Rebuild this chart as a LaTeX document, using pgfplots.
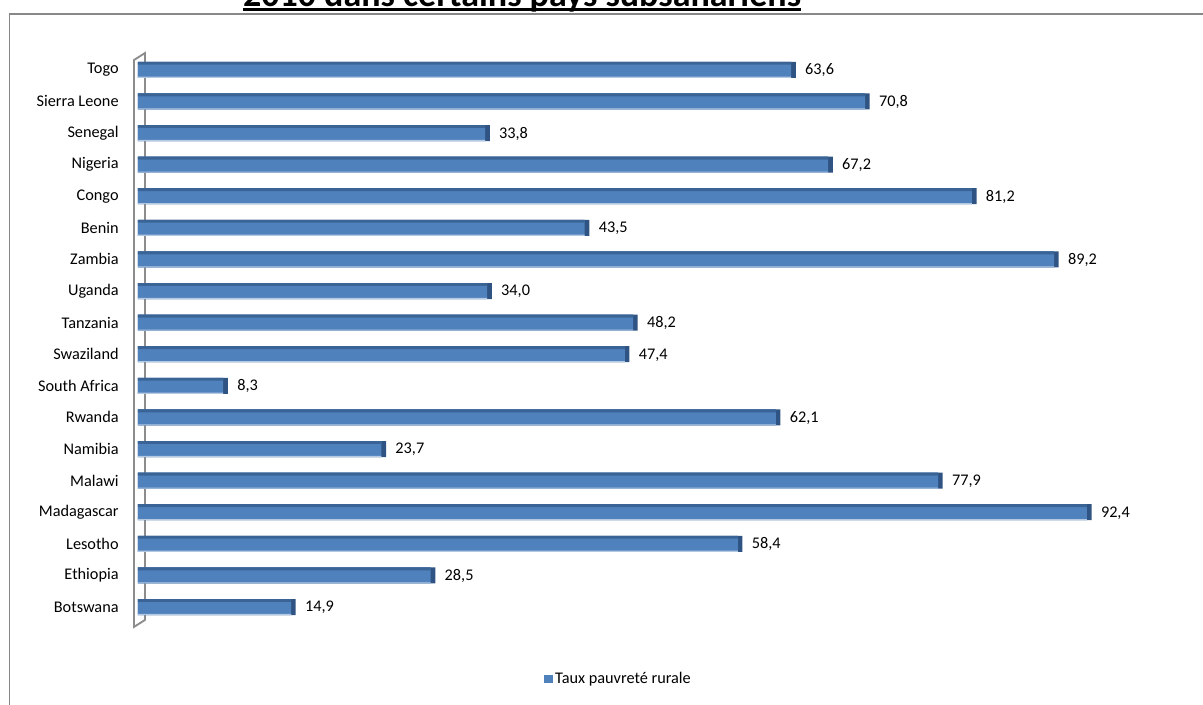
\documentclass[border=0pt]{standalone}
\usepackage{fontspec}
\setmainfont{Carlito}
\usepackage{pgfplots}
\usepackage{pgfplotstable}
\pgfplotsset{compat=1.18}
\definecolor{barblue}{HTML}{4F81BD}
\definecolor{bardark}{HTML}{3B6496}
\definecolor{barlight}{HTML}{B4C8E2}
\definecolor{barside}{HTML}{2F5483}
\definecolor{wallgray}{HTML}{8C8C8C}
\definecolor{framegray}{HTML}{888888}
\newcommand{\p}[1]{#1*0.75pt}
\pgfplotstableread{
idx v
0 14.9
1 28.5
2 58.4
3 92.4
4 77.9
5 23.7
6 62.1
7 8.3
8 47.4
9 48.2
10 34.0
11 89.2
12 43.5
13 81.2
14 67.2
15 33.8
16 70.8
17 63.6
}\rates
\begin{document}
\begin{tikzpicture}
\useasboundingbox (0,0) rectangle ({\p{1203}},{-\p{704}});
\clip (0,0) rectangle ({\p{1203}},{-\p{704}});
\draw[framegray, line width=1.2pt] ({\p{9.5}},{-\p{720}}) -- ({\p{9.5}},{-\p{14}}) -- ({\p{1220}},{-\p{14}});
\node[anchor=base, inner sep=0pt, font=\bfseries\fontsize{27}{30}\selectfont] (T) at ({\p{522}},{-\p{6}}) {2010 dans certains pays subsahariens};
\draw[line width=1.9pt] ([yshift=-2.6pt]T.base west) -- ([yshift=-2.6pt]T.base east);
\begin{axis}[
  at={({\p{138}},{-\p{607}})}, anchor=origin,
  x=7.7025pt, y=23.7pt,
  xmin=0, xmax=100, ymin=-0.9, ymax=17.9,
  xbar, bar width=12pt,
  clip=false,
  axis line style={draw=none}, major tick length=0pt, xtick=\empty,
  ytick={0,...,17},
  yticklabels={Botswana,Ethiopia,Lesotho,Madagascar,Malawi,Namibia,Rwanda,South Africa,Swaziland,Tanzania,Uganda,Zambia,Benin,Congo,Nigeria,Senegal,Sierra Leone,Togo},
  yticklabel style={font=\fontsize{12.2}{14}\selectfont, xshift=-11pt},
  legend style={draw=none, fill=none, at={(0.391,-0.0734)}, anchor=west, font=\fontsize{12.2}{14}\selectfont},
  legend image code/.code={\fill[barblue] (0pt,-3.2pt) rectangle (6.5pt,3.2pt);},
]
\draw[wallgray, line width=1.4pt] (axis cs:-0.39,-0.63) -- (axis cs:-0.39,17.31) -- (axis cs:0.68,17.53) -- (axis cs:0.68,-0.41) -- cycle;
% side face (drawn first, slightly longer)
\addplot[forget plot, draw=none, fill=barside, bar shift=0pt, bar width=12pt]
  table[x expr=\thisrow{v}+0.45, y=idx] {\rates};
% front face
\addplot[draw=none, fill=barblue, bar shift=0pt, bar width=12pt, point meta=x,
  nodes near coords={\pgfmathprintnumber[assume math mode=true,fixed,fixed zerofill,precision=1,use comma]{\pgfplotspointmeta}},
  nodes near coords style={anchor=west, xshift=7pt, yshift=-0.5pt, font=\fontsize{12.2}{14}\selectfont, text=black}]
  table[x=v, y=idx] {\rates};
\addlegendentry{Taux pauvreté rurale}
% darker top edge
\addplot[forget plot, draw=none, fill=bardark, bar shift=4.9pt, bar width=2.2pt]
  table[x=v, y=idx] {\rates};
% light bottom edge
\addplot[forget plot, draw=none, fill=barlight, bar shift=-5.6pt, bar width=0.8pt]
  table[x=v, y=idx] {\rates};
\end{axis}
\end{tikzpicture}
\end{document}
